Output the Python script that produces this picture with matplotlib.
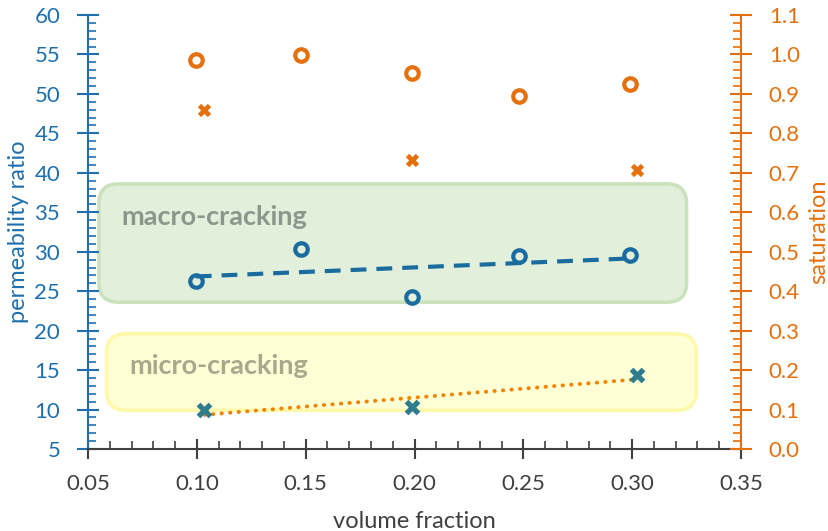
import numpy as np
import matplotlib
matplotlib.use("Agg")
import matplotlib.pyplot as plt
from matplotlib.patches import FancyBboxPatch
from matplotlib.ticker import MultipleLocator, FormatStrFormatter

plt.rcParams['font.family'] = ['Lato', 'DejaVu Sans']

# permeability ratio (left axis)
vf_circ = [0.0995, 0.148, 0.199, 0.248, 0.299]
perm_circ = [26.3, 30.3, 24.3, 29.5, 29.6]
vf_cross = [0.1035, 0.199, 0.302]
perm_cross = [9.95, 10.3, 14.4]

# saturation (right axis)
sat_circ = [0.986, 0.999, 0.953, 0.895, 0.926]
sat_cross = [0.859, 0.732, 0.707]

BLUE = '#1A6C9E'
TEAL = '#2E7D8E'
ORANGE = '#E5700E'
AXBLUE = '#1F6FAE'
GRAY = '#404040'

fig = plt.figure(figsize=(8.29, 5.31), dpi=100)
ax = fig.add_axes([88/829, 82/531, 653/829, 434/531])
ax2 = ax.twinx()

ax.set_xlim(0.05, 0.35)
ax.set_ylim(5, 60)
ax2.set_ylim(0.0, 1.1)

# rounded regions (drawn behind everything)
asp = (55 / 434) / (0.30 / 653)
ax.add_patch(FancyBboxPatch((0.055, 23.6), 0.325 - 0.055, 38.6 - 23.6,
                            boxstyle="round,pad=0,rounding_size=0.009",
                            mutation_aspect=asp, fc='#E2EFDA', ec='#C9E2BC',
                            lw=2.5, zorder=0))
ax.add_patch(FancyBboxPatch((0.0585, 9.9), 0.3295 - 0.0585, 19.6 - 9.9,
                            boxstyle="round,pad=0,rounding_size=0.009",
                            mutation_aspect=asp, fc='#FFFFD6', ec='#FFF8A8',
                            lw=2.5, zorder=0))
ax.text(0.0655, 34.4, 'macro-cracking', fontsize=19.5, fontweight='bold',
        color='#8B978B', va='center', ha='left', zorder=1)
ax.text(0.0688, 15.5, 'micro-cracking', fontsize=19.5, fontweight='bold',
        color='#A8A88C', va='center', ha='left', zorder=1)

# trendlines
p1 = np.polyfit(vf_circ, perm_circ, 1)
xs1 = np.array([min(vf_circ), max(vf_circ)])
ax.plot(xs1, np.polyval(p1, xs1), color=BLUE, lw=3, ls=(0, (3.8, 2.4)), zorder=2)
p2 = np.polyfit(vf_cross, perm_cross, 1)
xs2 = np.linspace(min(vf_cross), max(vf_cross), 50)
ax.plot(xs2, np.polyval(p2, xs2), color='#F08300', lw=2.8, ls=(0, (0.1, 2.1)),
        dash_capstyle='round', zorder=2)

ax.plot(vf_circ, perm_circ, 'o', ms=9, mfc='none', mec=BLUE, mew=3, zorder=3)
ax.plot(vf_cross, perm_cross, 'x', ms=8.5, mec=TEAL, mew=3.8, zorder=3)
ax2.plot(vf_circ, sat_circ, 'o', ms=9, mfc='none', mec=ORANGE, mew=3, zorder=3)
ax2.plot(vf_cross, sat_cross, 'x', ms=7.5, mec=ORANGE, mew=3.4, zorder=3)

# axes styling
ax.spines['top'].set_visible(False)
ax2.spines['top'].set_visible(False)
ax.spines['right'].set_visible(False)
ax2.spines['left'].set_visible(False)
ax2.spines['bottom'].set_visible(False)
ax.spines['left'].set_color(AXBLUE)
ax.spines['left'].set_linewidth(1.5)
ax2.spines['right'].set_color(ORANGE)
ax2.spines['right'].set_linewidth(1.5)
ax.spines['bottom'].set_color(GRAY)
ax.spines['bottom'].set_linewidth(1.5)

ax.xaxis.set_major_locator(MultipleLocator(0.05))
ax.xaxis.set_minor_locator(MultipleLocator(0.01))
ax.xaxis.set_major_formatter(FormatStrFormatter('%.2f'))
ax.yaxis.set_major_locator(MultipleLocator(5))
ax.yaxis.set_minor_locator(MultipleLocator(1))
ax2.yaxis.set_major_locator(MultipleLocator(0.1))
ax2.yaxis.set_minor_locator(MultipleLocator(0.02))
ax2.yaxis.set_major_formatter(FormatStrFormatter('%.1f'))

ax.tick_params(axis='x', which='major', direction='inout', length=14, width=1.5,
               color=GRAY, labelcolor=GRAY, labelsize=16, pad=11)
ax.tick_params(axis='x', which='minor', direction='in', length=6, width=1.2, color=GRAY)
ax.tick_params(axis='y', which='major', direction='inout', length=16, width=1.5,
               color=AXBLUE, labelcolor=AXBLUE, labelsize=16, pad=12)
ax.tick_params(axis='y', which='minor', direction='in', length=6, width=1.2, color=AXBLUE)
ax2.tick_params(axis='y', which='major', direction='inout', length=16, width=1.5,
                color=ORANGE, labelcolor=ORANGE, labelsize=16, pad=12)
ax2.tick_params(axis='y', which='minor', direction='in', length=6, width=1.2, color=ORANGE)

ax.set_xlabel('volume fraction', fontsize=17, color=GRAY, labelpad=12)
ax.set_ylabel('permeability ratio', fontsize=17, color=AXBLUE, labelpad=4)
ax2.set_ylabel('saturation', fontsize=17, color=ORANGE, labelpad=6)

fig.savefig('out.png', dpi=100)
